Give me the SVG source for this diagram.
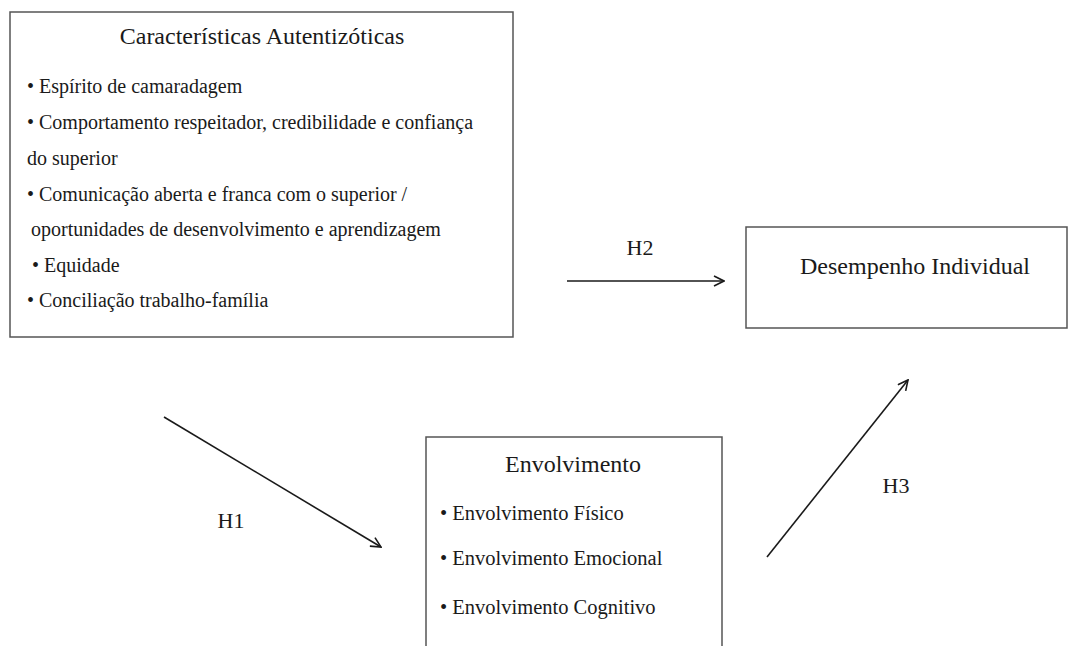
<svg xmlns="http://www.w3.org/2000/svg" width="1073" height="646" viewBox="0 0 1073 646">
<defs>
<style>
text{font-family:"Liberation Serif","Times New Roman",serif;fill:#1a1a1a}
.t{font-size:24px;text-anchor:middle}
.b{font-size:20px}
.e{font-size:20.5px}
.h{font-size:22px;text-anchor:middle}
.box{fill:#fff;stroke:#555;stroke-width:1.5}
.c{stroke:#1a1a1a;stroke-width:1.6;fill:none}
</style>
<marker id="ah" viewBox="0 0 12 12" refX="11" refY="6" markerWidth="12" markerHeight="12" markerUnits="userSpaceOnUse" orient="auto">
<path d="M1,1 L11,6 L1,11" fill="none" stroke="#1a1a1a" stroke-width="1.6"/>
</marker>
</defs>
<rect width="1073" height="646" fill="#fff"/>
<g id="n-caracteristicas">
<rect class="box" x="10" y="12" width="503" height="325"/>
<text class="t" x="262" y="44">Características Autentizóticas</text>
<text class="b" x="27" y="93">• Espírito de camaradagem</text>
<text class="b" x="27" y="129">• Comportamento respeitador, credibilidade e confiança</text>
<text class="b" x="27" y="165">do superior</text>
<text class="b" x="27" y="201">• Comunicação aberta e franca com o superior /</text>
<text class="b" x="31" y="236">oportunidades de desenvolvimento e aprendizagem</text>
<text class="b" x="32" y="272">• Equidade</text>
<text class="b" x="27" y="307">• Conciliação trabalho-família</text>
</g>
<g id="n-desempenho">
<rect class="box" x="746" y="227" width="321" height="101"/>
<text class="t" x="915" y="274">Desempenho Individual</text>
</g>
<g id="n-envolvimento">
<rect class="box" x="426" y="437" width="296" height="215"/>
<text class="t" x="573" y="472">Envolvimento</text>
<text class="e" x="440" y="520">• Envolvimento Físico</text>
<text class="e" x="440" y="565">• Envolvimento Emocional</text>
<text class="e" x="440" y="614">• Envolvimento Cognitivo</text>
</g>
<g id="connectors">
<line class="c" x1="567" y1="281" x2="724" y2="281" marker-end="url(#ah)"/>
<line class="c" x1="164" y1="417" x2="381" y2="547" marker-end="url(#ah)"/>
<line class="c" x1="767" y1="557" x2="908" y2="380" marker-end="url(#ah)"/>
<text class="h" x="640" y="255">H2</text>
<text class="h" x="231" y="528">H1</text>
<text class="h" x="896" y="493">H3</text>
</g>
</svg>
